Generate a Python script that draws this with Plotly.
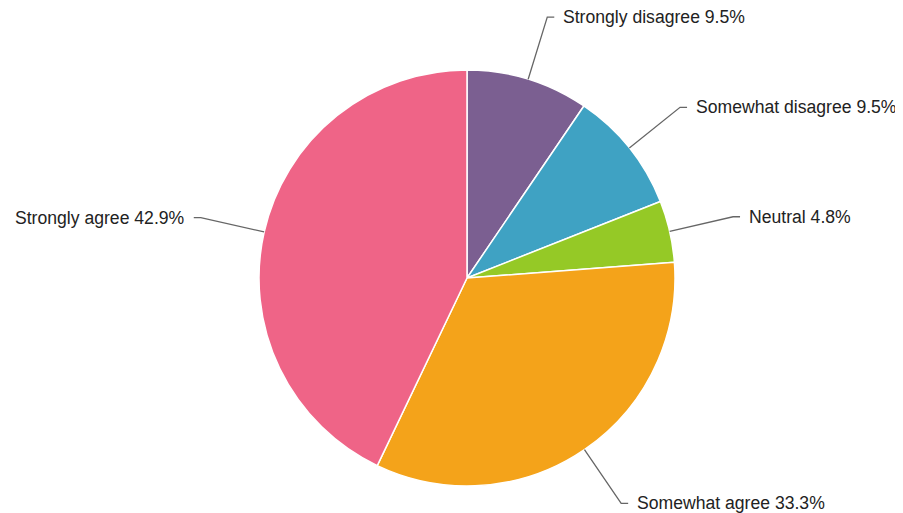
import numpy as np
import plotly.graph_objects as go

labels = ["Strongly disagree", "Somewhat disagree", "Neutral", "Somewhat agree", "Strongly agree"]
values = [9.5, 9.5, 4.8, 33.3, 42.9]
colors = ["#7B5F91", "#3FA2C3", "#95C926", "#F4A31A", "#EF6487"]

# The page body has an 8px margin, so the figure is drawn offset by 8px.
OFF = 8
W, H = 903 - OFF, 513 - OFF
CX, CY, R = 467 - OFF, 278 - OFF, 208
R_OUT = 273
HOOK = 7
GAP = 7
FONT_SIZE = 17.6

fig = go.Figure(go.Pie(
    labels=labels, values=values, sort=False, direction="clockwise", rotation=0,
    marker=dict(colors=colors, line=dict(color="white", width=1.5)),
    textinfo="none", hoverinfo="label+percent", showlegend=False,
    domain=dict(x=[(CX - R) / W, (CX + R) / W], y=[1 - (CY + R) / H, 1 - (CY - R) / H]),
))

vals = np.array(values, dtype=float)
frac = vals / vals.sum()
mids = (np.cumsum(frac) - frac / 2) * 2 * np.pi

def px(x):
    return x / W

def py(y):
    return 1 - y / H

shapes, annos = [], []
for lab, f, a in zip(labels, frac, mids):
    sx, sy = CX + R * np.sin(a), CY - R * np.cos(a)
    ex, ey = CX + R_OUT * np.sin(a), CY - R_OUT * np.cos(a)
    right = np.sin(a) >= 0
    hx = ex + (HOOK if right else -HOOK)
    shapes.append(dict(
        type="path", xref="paper", yref="paper",
        path=f"M {px(sx)} {py(sy)} L {px(ex)} {py(ey)} L {px(hx)} {py(ey)}",
        line=dict(color="#666666", width=1.3),
    ))
    tx = hx + (GAP if right else -GAP)
    annos.append(dict(
        x=px(tx), y=py(ey), xref="paper", yref="paper", showarrow=False,
        xanchor="left" if right else "right", yanchor="middle",
        text=f"{lab} {f * 100:.1f}%",
        font=dict(family="Liberation Sans, Arial, sans-serif", size=FONT_SIZE, color="#222222"),
    ))

fig.update_layout(
    width=W, height=H, margin=dict(l=0, r=0, t=0, b=0),
    paper_bgcolor="white", plot_bgcolor="white",
    shapes=shapes, annotations=annos,
)
fig.write_html("out.html")
